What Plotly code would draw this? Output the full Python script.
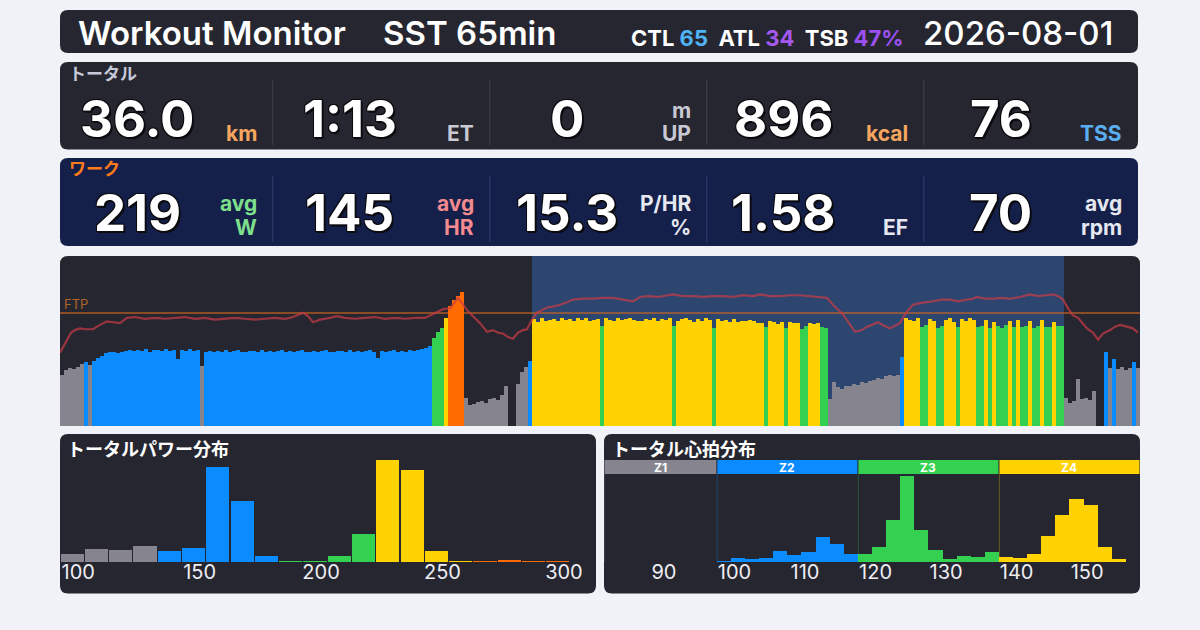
import plotly.graph_objects as go

W, H = 1200, 630
FONT = "Inter, Noto Sans CJK JP, sans-serif"
JP_FONT = "Noto Sans CJK JP, Inter, sans-serif"

# ---- header ----
TITLE = "Workout Monitor"
WORKOUT_NAME = "SST 65min"
CTL, ATL, TSB = 65, 34, "47%"
DATE = "2026-08-01"

# ---- summary rows ----
TOTAL_VALUES = ["36.0", "1:13", "0", "896", "76"]
TOTAL_UNITS = ["km", "ET", "m<br>UP", "kcal", "TSS"]
TOTAL_UNIT_COLORS = ["#f6a65e", "#c9c9d3", "#c9c9d3", "#f6a65e", "#5aaef0"]
WORK_VALUES = ["219", "145", "15.3", "1.58", "70"]
WORK_UNITS = ["avg<br>W", "avg<br>HR", "P/HR<br>%", "EF", "avg<br>rpm"]
WORK_UNIT_COLORS = ["#7fe08c", "#f38a8f", "#e6e8f0", "#e6e8f0", "#e6e8f0"]

# ---- power timeline (16 s samples, watts) ----
SAMPLE_SEC = 16
FTP = 246
POWER_WARMUP = [110, 122, 126, 124, 128, 134, 140, 133, 141, 147, 152,
                158, 160, 162, 159, 161, 163,
                165, 163, 166, 164, 167, 162, 165, 166, 164, 168, 163, 165, 146, 166, 164, 167, 163, 165,
                130,
                161, 163, 160, 164, 162, 165, 161, 163, 166, 162,
                160, 164, 163, 161, 165, 162, 164, 160, 163, 166,
                161, 164, 162, 163, 165, 160, 162, 164, 161, 163,
                165, 162, 160, 164, 163, 161, 166, 162, 164, 160,
                163, 165, 161, 148, 164, 162, 163, 165, 161, 164,
                162, 166, 163, 165, 167, 170, 174]
POWER_SPRINT = [192, 205, 214, 236, 262, 274, 284, 291]
POWER_RECOVERY1 = [60, 46, 48, 52, 55, 50, 58, 62, 56, 68, 88, 0, 0, 92, 118, 128, 142]
POWER_INTERVAL1 = [232, 226, 234, 228, 231, 233, 229, 235, 230, 232,
                   228, 234, 231, 236, 229, 230, 233, 217, 235, 231,
                   229, 234, 230, 232, 236, 230, 228, 229, 233, 231,
                   235, 229, 232, 230, 234, 218, 228, 233, 236, 231,
                   227, 232, 229, 235, 230, 214, 233, 228, 231, 226,
                   232, 226, 229, 228, 230, 228, 224, 225, 215, 229,
                   226, 223, 227, 213, 226, 224, 224, 212, 218, 225,
                   223, 224, 216, 213]
POWER_RECOVERY2 = [58, 96, 84, 80, 88, 86, 92, 90, 95, 94, 98, 100, 104, 103, 108, 110, 109, 112]
POWER_INTERVAL2 = [150, 236, 231, 228, 234, 216, 219, 232, 229, 214,
                   218, 230, 235, 227, 216, 233, 229, 236, 231, 215,
                   218, 230, 213, 226, 217, 214, 219, 229, 216, 231,
                   215, 218, 228, 214, 217, 230, 216, 215, 226, 218, 217]
POWER_COOLDOWN = [62, 50, 54, 102, 58, 60, 56, 76, 0, 0, 160, 126, 145, 124, 128, 122, 126, 140, 127]

# heart rate trace (seconds, bpm)
HR_SEC = [0, 16, 28, 44, 60, 80, 104, 132, 160, 188, 212, 240, 268, 300, 340, 380, 420, 460, 500, 540,
          580, 620, 660, 700, 740, 780, 820, 860, 900, 932, 972, 992, 1012, 1040, 1080, 1108, 1140, 1180,
          1220, 1260, 1300, 1340, 1380, 1420, 1460, 1488, 1508, 1532, 1560, 1580, 1592, 1608, 1628, 1652,
          1680, 1708, 1732, 1752, 1772, 1792, 1812, 1832, 1852, 1868, 1888, 1908, 1928, 1948, 1972, 2000,
          2028, 2052, 2092, 2132, 2172, 2212, 2252, 2292, 2320, 2352, 2392, 2432, 2452, 2492, 2532, 2572,
          2612, 2652, 2692, 2732, 2772, 2800, 2840, 2880, 2920, 2960, 3000, 3040, 3068, 3092, 3112, 3132,
          3156, 3180, 3208, 3228, 3248, 3272, 3296, 3320, 3340, 3360, 3376, 3388, 3412, 3440, 3468, 3492,
          3528, 3560, 3592, 3628, 3652, 3668, 3700, 3732, 3760, 3800, 3840, 3880, 3912, 3944, 3972, 3992,
          4012, 4032, 4052, 4072, 4092, 4108, 4132, 4152, 4172, 4200, 4220, 4240, 4268, 4292, 4312]
HR_BPM = [84, 92, 99, 107, 110, 112, 111, 111, 116, 120, 119, 118, 124, 125, 123, 124, 123, 124, 125, 123,
          124, 122, 123, 124, 123, 122, 123, 124, 123, 125, 130, 126, 119, 122, 124, 126, 124, 123,
          124, 125, 123, 124, 123, 124, 124, 128, 131, 134, 135, 142, 147, 141, 133, 126,
          118, 108, 110, 107, 106, 102, 100, 107, 110, 111, 122, 130, 133, 136, 137, 139,
          142, 145, 146, 146, 147, 147, 145, 143, 148, 149, 148, 150, 151, 149, 149, 148,
          149, 149, 148, 150, 149, 151, 149, 149, 150, 150, 149, 148, 147, 139, 133, 128,
          118, 108, 110, 114, 116, 119, 115, 112, 115, 118, 126, 131, 139, 141, 142, 143,
          145, 145, 143, 145, 146, 148, 146, 146, 147, 146, 148, 151, 149, 150, 151, 149,
          145, 135, 127, 124, 117, 112, 107, 99, 106, 110, 114, 116, 114, 112, 107]

POWER_ZONE_PCT = [0.55, 0.75, 0.90, 1.05]
POWER_ZONE_COLORS = ["#86858f", "#0a8cff", "#33d14f", "#ffd200", "#ff6b00"]

# ---- distributions (minutes per bin) ----
PWR_BIN_START = 92.5
PWR_BIN_WIDTH = 10
PWR_HIST_MIN = [2.3, 3.8, 3.5, 4.7, 3.2, 4.1, 28.4, 18.2, 1.7, 0.3, 0.2,
                1.7, 8.3, 30.5, 27.5, 3.2, 0.2, 0.2, 0.5, 0.2, 0.2]
PWR_TICKS = [100, 150, 200, 250, 300]

HR_BIN_START = 97.5
HR_BIN_WIDTH = 2
HR_HIST_MIN = [0.2, 1.1, 0.8, 1.1, 3.2, 2.0, 2.9, 7.4, 5.3, 2.3,
               2.3, 4.4, 12.5, 25.7, 9.5, 3.5, 0.8, 1.7, 1.4, 2.9,
               1.4, 1.1, 2.3, 7.7, 14.0, 18.8, 17.0, 4.4, 0.8]
HR_TICKS = [90, 100, 110, 120, 130, 140, 150]
HR_ZONE_EDGES = [81.5, 97.5, 117.5, 137.5, 157.5]
HR_ZONE_NAMES = ["Z1", "Z2", "Z3", "Z4"]
HR_ZONE_COLORS = ["#86858f", "#0a8cff", "#33d14f", "#ffd200"]


def px(x):
    return x / W


def py(y):
    return 1 - y / H


def rrect(x0, y0, x1, y1, r, color, top_only=False):
    rb = 0 if top_only else r
    path = (f"M {px(x0 + r)},{py(y0)} L {px(x1 - r)},{py(y0)} "
            f"Q {px(x1)},{py(y0)} {px(x1)},{py(y0 + r)} "
            f"L {px(x1)},{py(y1 - rb)} Q {px(x1)},{py(y1)} {px(x1 - rb)},{py(y1)} "
            f"L {px(x0 + rb)},{py(y1)} Q {px(x0)},{py(y1)} {px(x0)},{py(y1 - rb)} "
            f"L {px(x0)},{py(y0 + r)} Q {px(x0)},{py(y0)} {px(x0 + r)},{py(y0)} Z")
    return dict(type="path", xref="paper", yref="paper", path=path,
                fillcolor=color, line=dict(width=0), layer="below")


def power_color(w):
    for pct, c in zip(POWER_ZONE_PCT, POWER_ZONE_COLORS):
        if w < pct * FTP:
            return c
    return POWER_ZONE_COLORS[-1]


def hr_color(b):
    for i in range(len(HR_ZONE_NAMES)):
        if b < HR_ZONE_EDGES[i + 1]:
            return HR_ZONE_COLORS[i]
    return HR_ZONE_COLORS[-1]


annotations = []


def text(x, y, s, size, color="#ffffff", xanchor="left", weight=400, family=FONT, shadow=None):
    f = dict(size=size, color=color, family=family, weight=weight)
    if shadow:
        f["shadow"] = shadow
    annotations.append(dict(x=px(x), y=py(y), xref="paper", yref="paper", text=s,
                            showarrow=False, xanchor=xanchor, yanchor="middle", font=f))


power = (POWER_WARMUP + POWER_SPRINT + POWER_RECOVERY1 + POWER_INTERVAL1
         + POWER_RECOVERY2 + POWER_INTERVAL2 + POWER_COOLDOWN)
t_mid = [i * SAMPLE_SEC + SAMPLE_SEC / 2 for i in range(len(power))]
total_sec = len(power) * SAMPLE_SEC
work_start = len(POWER_WARMUP + POWER_SPRINT + POWER_RECOVERY1) * SAMPLE_SEC
work_end = work_start + len(POWER_INTERVAL1 + POWER_RECOVERY2 + POWER_INTERVAL2) * SAMPLE_SEC

pwr_centers = [PWR_BIN_START + PWR_BIN_WIDTH * (k + 0.5) for k in range(len(PWR_HIST_MIN))]
hr_centers = [HR_BIN_START + HR_BIN_WIDTH * (k + 0.5) for k in range(len(HR_HIST_MIN))]

fig = go.Figure()
fig.add_trace(go.Bar(x=t_mid, y=power, width=SAMPLE_SEC,
                     marker=dict(color=[power_color(w) for w in power], line=dict(width=0)),
                     xaxis="x", yaxis="y", hoverinfo="skip"))
fig.add_trace(go.Scatter(x=HR_SEC, y=HR_BPM, mode="lines",
                         line=dict(color="rgba(200,60,70,0.72)", width=2.2),
                         xaxis="x", yaxis="y2", hoverinfo="skip"))
fig.add_trace(go.Bar(x=pwr_centers, y=PWR_HIST_MIN, width=PWR_BIN_WIDTH * 0.95,
                     marker=dict(color=[power_color(c) for c in pwr_centers], line=dict(width=0)),
                     xaxis="x3", yaxis="y3", hoverinfo="skip"))
fig.add_trace(go.Bar(x=hr_centers, y=HR_HIST_MIN, width=HR_BIN_WIDTH,
                     marker=dict(color=[hr_color(c) for c in hr_centers], line=dict(width=0)),
                     xaxis="x4", yaxis="y4", hoverinfo="skip"))

shapes = [
    rrect(60, 10, 1138, 53, 8, "#262630"),
    rrect(60, 62, 1138, 149.5, 8, "#262630"),
    rrect(60, 158, 1138, 246, 8, "#141f4a"),
    rrect(60, 256, 1140, 426, 8, "#262630", top_only=True),
    rrect(60, 434, 596, 593.5, 8, "#262630"),
    rrect(604, 434, 1140, 593.5, 8, "#262630"),
    dict(type="rect", xref="x", yref="y", x0=work_start, x1=work_end, y0=0, y1=370,
         fillcolor="#2c4670", line=dict(width=0), layer="below"),
    dict(type="line", xref="x", yref="y", x0=0, x1=total_sec, y0=FTP, y1=FTP,
         line=dict(color="rgba(205,100,30,0.6)", width=2), layer="below"),
]

# summary rows
CELL_EDGES = [60, 272.7, 489.7, 706.7, 923.7, 1138]
VALUE_SHADOW = ("-1px -1px 0 #0b0b10, 1px -1px 0 #0b0b10, -1px 1px 0 #0b0b10, "
                "2px 2px 0 #0b0b10, 1px 2px 0 #0b0b10")
for row_vals, row_units, row_cols, y_val, y_l1, y_l2, sep_y, sep_col in [
        (TOTAL_VALUES, TOTAL_UNITS, TOTAL_UNIT_COLORS, 118, 110, 133, (80, 145), "#383844"),
        (WORK_VALUES, WORK_UNITS, WORK_UNIT_COLORS, 212.5, 204, 227.5, (176, 242), "#283462")]:
    for k in range(5):
        left, right = CELL_EDGES[k], CELL_EDGES[k + 1]
        text(left + 77, y_val, row_vals[k], 51, xanchor="center", weight=700, shadow=VALUE_SHADOW)
        lines = row_units[k].split("<br>")
        if len(lines) == 2:
            text(right - 14, y_l1, lines[0], 21, row_cols[k], xanchor="right", weight=700)
        text(right - 14, y_l2, lines[-1], 21, row_cols[k], xanchor="right", weight=700)
        if k > 0:
            shapes.append(dict(type="line", xref="paper", yref="paper", x0=px(left), x1=px(left),
                               y0=py(sep_y[0]), y1=py(sep_y[1]), line=dict(color=sep_col, width=1.5)))

# header
text(76, 33, TITLE, 33, weight=600)
text(381, 33, WORKOUT_NAME, 33, weight=600)
text(906, 38,
     f"CTL <span style='color:#4fb3f6'>{CTL}</span>&nbsp;&nbsp;ATL <span style='color:#a558ee'>{ATL}</span>"
     f"&nbsp;&nbsp;TSB <span style='color:#9b50f2'>{TSB}</span>",
     22, xanchor="right", weight=700)
text(1115, 33, DATE, 33, xanchor="right", weight=500)
text(67, 72, "トータル", 17, "#c5c9d9", weight=700, family=JP_FONT)
text(67, 167.5, "ワーク", 17, "#ff7a1a", weight=700, family=JP_FONT)

# timeline label
text(62, 304, "FTP", 13, "#b2642a")

# distribution titles
text(65, 447.5, "トータルパワー分布", 18, weight=700, family=JP_FONT)
text(610, 447.5, "トータル心拍分布", 18, weight=700, family=JP_FONT)

# hr zone bands
for k, name in enumerate(HR_ZONE_NAMES):
    z0, z1 = HR_ZONE_EDGES[k], HR_ZONE_EDGES[k + 1]
    shapes.append(dict(type="rect", xref="x4", yref="paper", x0=z0 + 0.07, x1=z1 - 0.07,
                       y0=py(474), y1=py(460), fillcolor=HR_ZONE_COLORS[k], line=dict(width=0)))
    shapes.append(dict(type="line", xref="x4", yref="paper", x0=z0 + 0.05, x1=z0 + 0.05,
                       y0=py(562), y1=py(474), line=dict(color=HR_ZONE_COLORS[k], width=1), opacity=0.3))
    annotations.append(dict(x=(z0 + z1) / 2, y=py(467), xref="x4", yref="paper", text=name,
                            showarrow=False, xanchor="center", yanchor="middle",
                            font=dict(size=12, color="#ffffff", family=FONT, weight=700)))

tick_font = dict(size=20, color="#eeeef4", family=FONT)
hidden = dict(visible=False, showgrid=False, zeroline=False, fixedrange=True)
hist_x = dict(ticks="", showgrid=False, zeroline=False, showline=False, tickfont=tick_font,
              fixedrange=True, automargin=False, ticklabelstandoff=-4)

fig.update_layout(
    width=W, height=H, autosize=False, margin=dict(l=0, r=0, t=0, b=0, pad=0, autoexpand=False),
    paper_bgcolor="#f0f2f7", plot_bgcolor="rgba(0,0,0,0)",
    showlegend=False, bargap=0, hovermode=False,
    shapes=shapes, annotations=annotations,
    xaxis=dict(domain=[px(60), px(1140)], range=[0, total_sec], anchor="y", **hidden),
    yaxis=dict(domain=[py(426), py(256)], range=[0, 370], anchor="x", **hidden),
    yaxis2=dict(overlaying="y", range=[0, 195], anchor="x", **hidden),
    xaxis3=dict(domain=[px(60), px(570)], range=[PWR_BIN_START, PWR_BIN_START + PWR_BIN_WIDTH * len(PWR_HIST_MIN)],
                anchor="y3", tickvals=PWR_TICKS, **hist_x),
    yaxis3=dict(domain=[py(562), py(460)], range=[0, max(PWR_HIST_MIN)], anchor="x3", **hidden),
    xaxis4=dict(domain=[px(604), px(1140)], range=[HR_ZONE_EDGES[0], HR_ZONE_EDGES[-1]],
                anchor="y4", tickvals=HR_TICKS, **hist_x),
    yaxis4=dict(domain=[py(562), py(476)], range=[0, max(HR_HIST_MIN)], anchor="x4", **hidden),
)

fig.write_html("out.html", config={"displayModeBar": False, "responsive": False},
               post_script=("document.documentElement.style.overflow='hidden';"
                            "document.documentElement.style.background='#f0f2f7';"
                            "document.body.style.margin='0';"
                            "document.body.style.overflow='hidden';"
                            "Plotly.relayout('{plot_id}', {width: 1200, height: 630});"))
